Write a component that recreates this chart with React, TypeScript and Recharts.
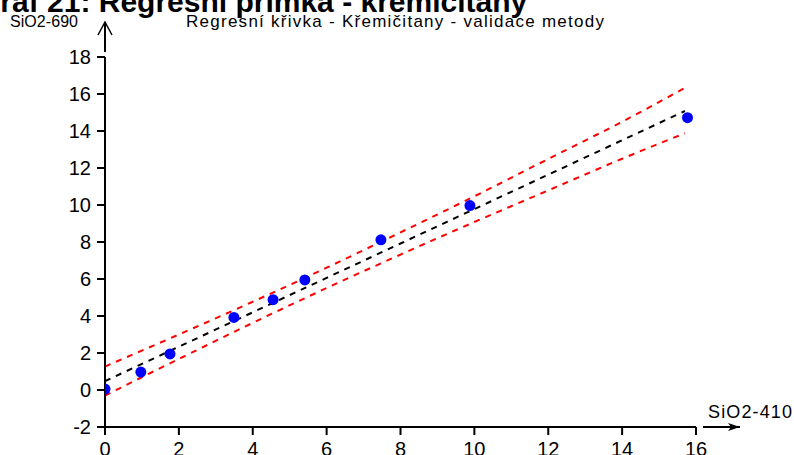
import React from "react";
import {
  ComposedChart,
  Line,
  Scatter,
  XAxis,
  YAxis,
} from "recharts";

// measured samples: SiO2 at 410 nm vs SiO2 at 690 nm
const sampleX = [0, 0.97, 1.76, 3.49, 4.55, 5.41, 7.47, 9.88, 15.77];
const sampleY = [0.05, 0.97, 1.95, 3.92, 4.88, 5.95, 8.12, 9.97, 14.72];

// regression line and its band
const bandX = [0, 2, 4, 6, 8, 10, 12, 14, 15.7];
const fitY = [0.48, 2.34, 4.2, 6.06, 7.92, 9.78, 11.64, 13.5, 15.08];
const upperY = [1.27, 3.0, 4.77, 6.61, 8.52, 10.47, 12.49, 14.5, 16.33];
const lowerY = [-0.3, 1.68, 3.63, 5.51, 7.32, 9.08, 10.79, 12.5, 13.88];

const xTicks = [0, 2, 4, 6, 8, 10, 12, 14, 16];
const yTicks = [-2, 0, 2, 4, 6, 8, 10, 12, 14, 16, 18];

const FONT = "Arial, 'Liberation Sans', sans-serif";

const samples = sampleX.map((x, i) => ({ x, y: sampleY[i] }));
const fitLine = bandX.map((x, i) => ({ x, y: fitY[i] }));
const upperLine = bandX.map((x, i) => ({ x, y: upperY[i] }));
const lowerLine = bandX.map((x, i) => ({ x, y: lowerY[i] }));

const Dot = (props: any) => (
  <circle cx={props.cx} cy={props.cy} r={5.5} fill="#0000ff" />
);

export default function App() {
  return (
    <div
      style={{
        position: "absolute",
        left: 0,
        top: 0,
        width: 794,
        height: 455,
        background: "#fff",
        overflow: "hidden",
        fontFamily: FONT,
      }}
    >
      <ComposedChart
        width={794}
        height={455}
        margin={{ top: 57, right: 98, left: 0, bottom: 0 }}
      >
        <XAxis
          dataKey="x"
          type="number"
          domain={[0, 16]}
          ticks={xTicks}
          height={28}
          tickSize={8}
          tickMargin={7}
          axisLine={{ stroke: "#000", strokeWidth: 2 }}
          tickLine={{ stroke: "#000", strokeWidth: 2 }}
          tick={{ fill: "#000", fontSize: 20, fontFamily: FONT }}
          allowDataOverflow
        />
        <YAxis
          dataKey="y"
          type="number"
          domain={[-2, 18]}
          ticks={yTicks}
          width={105}
          tickSize={8}
          tickMargin={6}
          axisLine={{ stroke: "#000", strokeWidth: 2 }}
          tickLine={{ stroke: "#000", strokeWidth: 2 }}
          tick={{ fill: "#000", fontSize: 20, fontFamily: FONT }}
          allowDataOverflow
        />
        <Line
          data={upperLine}
          dataKey="y"
          type="monotone"
          stroke="#ff0000"
          strokeWidth={2}
          strokeDasharray="6 6"
          dot={false}
          activeDot={false}
          isAnimationActive={false}
        />
        <Line
          data={lowerLine}
          dataKey="y"
          type="monotone"
          stroke="#ff0000"
          strokeWidth={2}
          strokeDasharray="6 6"
          dot={false}
          activeDot={false}
          isAnimationActive={false}
        />
        <Line
          data={fitLine}
          dataKey="y"
          type="linear"
          stroke="#000"
          strokeWidth={2}
          strokeDasharray="6 6"
          dot={false}
          activeDot={false}
          isAnimationActive={false}
        />
        <Scatter
          data={samples}
          dataKey="y"
          shape={Dot}
          isAnimationActive={false}
        />
      </ComposedChart>

      {/* headings, axis names and arrow heads */}
      <svg
        width={794}
        height={455}
        style={{ position: "absolute", left: 0, top: 0, pointerEvents: "none" }}
      >
        <text x={-23} y={12} fontSize={30} fontWeight="bold" fontFamily={FONT} fill="#000">
          Graf 21: Regresní přímka - křemičitany
        </text>
        <text
          x={186}
          y={27}
          fontSize={17}
          fontFamily={FONT}
          fill="#000"
          textLength={418}
          lengthAdjust="spacing"
        >
          Regresní křivka - Křemičitany - validace metody
        </text>
        <text x={10} y={27} fontSize={16} fontFamily={FONT} fill="#000" textLength={68} lengthAdjust="spacing">
          SiO2-690
        </text>
        <text x={708} y={418} fontSize={18} fontFamily={FONT} fill="#000" textLength={84} lengthAdjust="spacing">
          SiO2-410
        </text>
        {/* y arrow */}
        <line x1={105} y1={52} x2={105} y2={22} stroke="#000" strokeWidth={2} />
        <polyline points="98,35 105,22 112,35" fill="none" stroke="#000" strokeWidth={1.5} />
        {/* x arrow */}
        <line x1={703} y1={427} x2={740} y2={427} stroke="#000" strokeWidth={2} />
        <polygon points="728,423 740,427 728,431 731,427" fill="#000" />
      </svg>
    </div>
  );
}
